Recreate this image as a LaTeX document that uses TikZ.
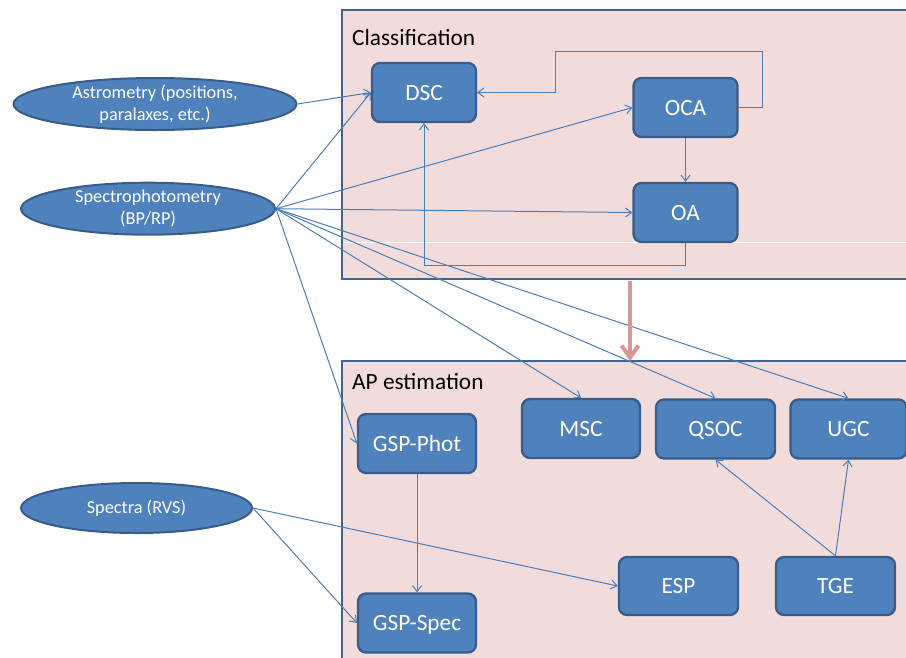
\documentclass[tikz,border=0pt]{standalone}
\usepackage{fontspec}
\setmainfont{Carlito}
\usetikzlibrary{arrows.meta,shapes.geometric}
\definecolor{panelfill}{HTML}{F2DCDB}
\definecolor{panelline}{HTML}{3C6591}
\definecolor{boxfill}{HTML}{4F81BD}
\definecolor{boxline}{HTML}{385D8A}
\definecolor{linkblue}{HTML}{4A7EBB}
\definecolor{flowred}{HTML}{D99694}

\begin{document}
\begin{tikzpicture}[x=1pt,y=-1pt,
  panel/.style={fill=panelfill, draw=panelline, line width=2.5pt},
  paneltitle/.style={anchor=base west, inner sep=0pt, font=\fontsize{23.3}{28}\selectfont},
  proc/.style={rectangle, rounded corners=8pt, fill=boxfill, draw=boxline,
    line width=2.3pt, text=white, inner sep=0pt, minimum height=59pt,
    text height=15pt, text depth=0pt, font=\fontsize{23.3}{28}\selectfont},
  source/.style={ellipse, fill=boxfill, draw=boxline, line width=2pt, text=white,
    inner xsep=0pt, inner ysep=-4pt, align=center, font=\fontsize{18.3}{22}\selectfont},
  link/.style={draw=linkblue, line width=1pt, -{Straight Barb[length=6pt,width=9pt]}},
  flow/.style={draw=flowred, line width=4pt, -{Straight Barb[length=12pt,width=17pt]}},
]
\useasboundingbox (0,0) rectangle (906,657);
\clip (0,0) rectangle (906,657);

% the two stage panels
\draw[panel] (342,10) rectangle (960,279);
\draw[panel] (342,361) rectangle (960,720);
\draw[white, line width=1pt] (343.5,242.3) -- (906,242.3);
\node[paneltitle] (clstitle) at (352,45.5) {Classification};
\node[paneltitle] (aptitle) at (352,389) {AP estimation};

% input data
\node[source, minimum width=283pt, minimum height=52pt] (astro) at (155,104)
  {Astrometry (positions,\\paralaxes, etc.)};
\node[source, minimum width=254pt, minimum height=52pt] (spph) at (148,208.7)
  {Spectrophotometry\\(BP/RP)};
\node[source, minimum width=231pt, minimum height=50pt] (spectra) at (136.5,508)
  {Spectra (RVS)};

% classification modules
\node[proc, minimum width=104pt] (dsc) at (424,92.5) {DSC};
\node[proc, minimum width=104pt] (oca) at (685.5,107.5) {OCA};
\node[proc, minimum width=104pt] (oa) at (685.5,212.5) {OA};

% AP estimation modules
\node[proc, minimum width=118pt] (gphot) at (417,443.5) {GSP-Phot};
\node[proc, minimum width=118pt] (gspec) at (417,623) {GSP-Spec};
\node[proc, minimum width=118pt] (msc) at (581,428.5) {MSC};
\node[proc, minimum width=119pt] (qsoc) at (715.5,429) {QSOC};
\node[proc, minimum width=116pt] (ugc) at (848.5,429) {UGC};
\node[proc, minimum width=119pt, minimum height=58pt] (esp) at (678.5,586) {ESP};
\node[proc, minimum width=119pt, minimum height=58pt] (tge) at (835.5,586) {TGE};

% routing points of the feedback loops
\coordinate (loopR) at (762,51);
\coordinate (loopL) at (555,51);
\coordinate (loopB) at (424,265.7);
\coordinate (clsB) at (630,280.5);
\coordinate (apT) at (630,361);

% data flow
\draw[link] (astro.east) -- (dsc.west);
\draw[link] (spph.east) -- (dsc.west);
\draw[link] (spph.east) -- (oca.west);
\draw[link] (spph.east) -- (oa.west);
\draw[link] (spph.east) -- (gphot.west);
\draw[link] (spph.east) -- (msc.north);
\draw[link] (spph.east) -- (qsoc.north);
\draw[link] (spph.east) -- (ugc.north);
\draw[link] (spectra.east) -- (esp.west);
\draw[link] (spectra.east) -- (gspec.west);
\draw[link] (gphot.south) -- (gspec.north);
\draw[link] (oca.south) -- (oa.north);
\draw[link] (tge.north) -- (qsoc.south);
\draw[link] (tge.north) -- (ugc.south);
\draw[link] (oca.east) -| (loopR) -- (loopL) |- (dsc.east);
\draw[link] (oa.south) |- (loopB) -- (dsc.south);

% stage transition
\draw[flow] (clsB) -- (apT);
\end{tikzpicture}
\end{document}
